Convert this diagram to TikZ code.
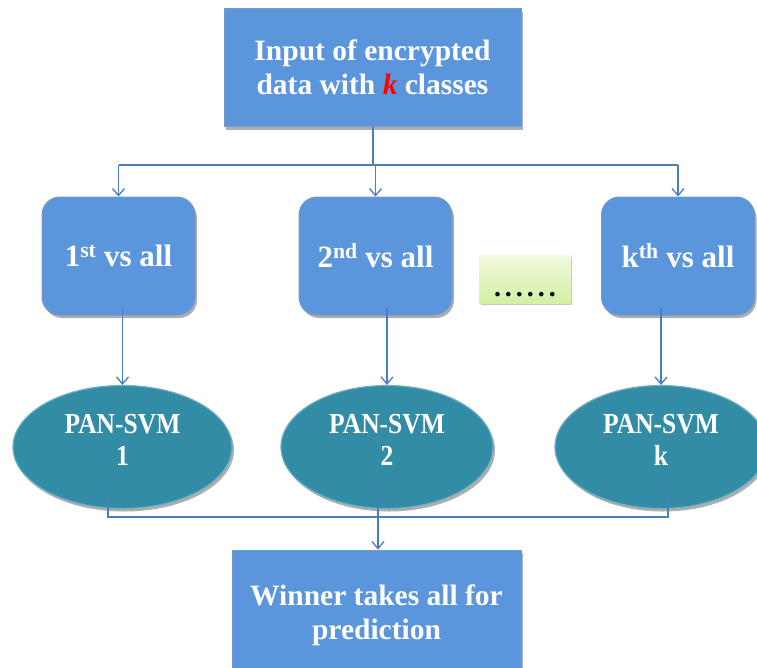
\documentclass[tikz,border=0pt]{standalone}
\usepackage{fontspec}
\setmainfont{Liberation Serif}
\usetikzlibrary{shapes.geometric,shadows,arrows.meta}
\definecolor{boxblue}{HTML}{5B96DC}
\definecolor{boxedge}{HTML}{4F81BD}
\definecolor{ellteal}{HTML}{338CA6}
\definecolor{linecol}{HTML}{4A7EBB}
\definecolor{dotsA}{HTML}{F0FADD}
\definecolor{dotsB}{HTML}{D5EFA6}
\newcommand{\cnd}[1]{\scalebox{0.88}[1]{#1}}
\tikzset{
  sq/.style={draw=boxedge!80!white, line width=1pt, fill=boxblue, text=white,
    font=\bfseries\fontsize{29.5}{34}\selectfont, align=center, inner sep=0pt,
    drop shadow={shadow xshift=2pt, shadow yshift=-3pt, opacity=0.45, fill=black!70}},
  rbox/.style={sq, rounded corners=18pt, font=\bfseries\fontsize{31}{34}\selectfont},
  oval/.style={ellipse, draw=ellteal!70!white, line width=1.2pt, fill=ellteal, text=white,
    font=\bfseries\fontsize{29}{32}\selectfont, align=center, inner sep=0pt,
    drop shadow={shadow xshift=2pt, shadow yshift=-3pt, opacity=0.45, fill=black!70}},
  dotsbox/.style={top color=dotsA, bottom color=dotsB, draw=none, font=\bfseries\fontsize{28}{28}\selectfont,
    drop shadow={shadow xshift=1pt, shadow yshift=-2pt, opacity=0.35, fill=black!60}},
  conn/.style={draw=linecol, line width=1.3pt},
  arr/.style={conn, -{Straight Barb[length=7pt,width=12pt,line width=1.3pt]}}
}
\begin{document}
\begin{tikzpicture}[x=1pt,y=-1pt]
\useasboundingbox (0,0) rectangle (757,667);
\begin{scope}
\clip (0,0) rectangle (757,667);
% top box
\node[sq, minimum width=297pt, minimum height=118pt] (top) at (372.5,67.5)
  {Input of encrypted\\data with \textcolor{red}{\textit{k}} classes};
% row of class boxes
\node[rbox, minimum width=153pt, minimum height=118pt] (b1) at (118.5,256) {1\textsuperscript{st} vs all};
\node[rbox, minimum width=153pt, minimum height=118pt] (b2) at (375.5,256) {2\textsuperscript{nd} vs all};
\node[rbox, minimum width=153pt, minimum height=118pt] (b3) at (678,256) {k\textsuperscript{th} vs all};
\node[dotsbox, minimum width=91pt, minimum height=48pt, inner sep=0pt] (dots) at (525,279)
  {\smash{\raisebox{-17pt}{.\kern4pt.\kern4pt.\kern4pt.\kern4pt.\kern4pt.}}};
% ellipses
\node[oval, minimum width=219pt, minimum height=123pt] (e1) at (122.5,447) {\cnd{PAN-SVM}\\\cnd{1}\rule[-14pt]{0pt}{0pt}};
\node[oval, minimum width=212pt, minimum height=123pt] (e2) at (387,447) {\cnd{PAN-SVM}\\\cnd{2}\rule[-14pt]{0pt}{0pt}};
\node[oval, minimum width=212pt, minimum height=123pt] (e3) at (661,447) {\cnd{PAN-SVM}\\\cnd{k}\rule[-14pt]{0pt}{0pt}};
% bottom box
\node[sq, minimum width=289pt, minimum height=130pt] (bot) at (376.5,615)
  {Winner takes all for\\prediction};
% connectors
\coordinate (hs) at (373,165);
\draw[conn] (top.south -| hs) -- (hs);
\draw[conn] (hs -| b1) -- (hs -| b3);
\draw[arr] (hs -| b1) -- (b1.north);
\draw[arr] (hs -| b2) -- (b2.north);
\draw[arr] (hs -| b3) -- (b3.north);
\draw[arr] ([yshift=8pt]b1.south -| e1) -- (e1.north);
\draw[arr] ([yshift=8pt]b2.south -| e2) -- (e2.north);
\draw[arr] ([yshift=8pt]b3.south -| e3) -- (e3.north);
\coordinate (l1) at (108,517);
\coordinate (l2) at (378,517);
\coordinate (l3) at (668,517);
\draw[conn] (l1 |- e1.south) ++(0,-18) -- (l1) -- (l3) -- ++(0,-27);
\draw[conn] (l2) -- ++(0,-27);
\draw[arr] (l2) -- (bot.north -| l2);
\end{scope}
\end{tikzpicture}
\end{document}
